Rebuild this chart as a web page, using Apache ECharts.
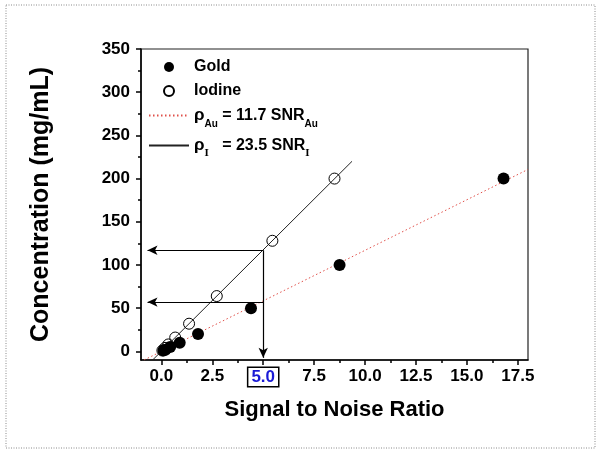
<!DOCTYPE html>
<html>
<head>
<meta charset="utf-8">
<script src="https://cdn.jsdelivr.net/npm/echarts@6/dist/echarts.min.js"></script>
<style>
html,body{margin:0;padding:0;background:#fff;}
#chart{width:600px;height:454px;}
</style>
</head>
<body>
<div id="chart"></div>
<script>
// ---- data ----
const goldPoints = [[0.1,1],[0.2,2],[0.43,5],[0.9,10],[1.8,20],[4.4,50],[8.75,100],[16.8,200]];
const iodinePoints = [[0.05,1],[0.18,4],[0.34,8],[0.68,16],[1.36,32],[2.72,64],[5.45,128],[8.5,200]];
const goldFit = [[-0.85,-10],[18,210.6]];      // rho = 11.7 SNR
const iodineFit = [[-0.43,-10],[9.36,220]];    // rho = 23.5 SNR
const readX = 5.0;
const readIodine = 117;
const readGold = 57;
const arrowTipX = -0.68;
const arrowTipY = -7.5;
const xTicks = [0,2.5,5,7.5,10,12.5,15,17.5];
const xMinor = [1.25,3.75,6.25,8.75,11.25,13.75,16.25];
const yTicks = [0,50,100,150,200,250,300,350];
const yMinor = [25,75,125,175,225,275,325];

const FONT = 'Liberation Sans';
const chart = echarts.init(document.getElementById('chart'), null, {renderer:'canvas'});

const axisBase = {
  type:'value',
  axisLine:{show:true,onZero:false,lineStyle:{color:'#000',width:1.5}},
  splitLine:{show:false}
};

const option = {
  animation:false,
  backgroundColor:'#fff',
  graphic:[{
    type:'rect', silent:true, z:-1,
    shape:{x:6,y:5,width:589,height:443},
    style:{fill:'none',stroke:'#8a8a8a',lineWidth:1,lineDash:[1,1.5]}
  }],
  grid:{left:141,right:72,top:49,bottom:94,show:true,borderColor:'#222',borderWidth:1.2},
  legend:{
    orient:'vertical', left:143, top:54, itemWidth:40, itemHeight:10, itemGap:8,
    data:['Gold','Iodine',{name:'goldFit',itemStyle:{opacity:0}},{name:'iodineFit',itemStyle:{opacity:0}}],
    textStyle:{fontFamily:FONT,fontWeight:'bold',fontSize:16,color:'#000',
      rich:{
        m:{fontFamily:FONT,fontWeight:'bold',fontSize:16,color:'#000'},
        p:{fontFamily:FONT,fontSize:17,color:'#000'},
        s:{fontFamily:FONT,fontWeight:'bold',fontSize:10,color:'#000',verticalAlign:'bottom',lineHeight:27},
        si:{fontFamily:'Liberation Serif',fontSize:11,color:'#000',verticalAlign:'bottom',lineHeight:27}
      }},
    formatter:function(n){
      if(n==='goldFit') return '{p|ρ}{s|Au}{m| = 11.7 SNR}{s|Au}';
      if(n==='iodineFit') return '{p|ρ}{si|I}{m|   = 23.5 SNR}{si|I}';
      return n;
    }
  },
  xAxis:[
    Object.assign({}, axisBase, {
      min:-1, max:18,
      name:'Signal to Noise Ratio', nameLocation:'middle', nameGap:39,
      nameTextStyle:{fontFamily:FONT,fontWeight:'bold',fontSize:22,color:'#000'},
      axisTick:{show:true,inside:false,length:5,customValues:xTicks,lineStyle:{color:'#000',width:1.5}},
      axisLabel:{customValues:xTicks,margin:8,fontFamily:FONT,fontWeight:'bold',fontSize:17,color:'#000',
        formatter:function(v){
          const s = Number(v).toFixed(1);
          return Math.abs(v-readX)<1e-9 ? '{hl|'+s+'}' : s;
        },
        rich:{hl:{fontFamily:FONT,fontWeight:'bold',fontSize:17,color:'#1a1ad6',borderColor:'#000',borderWidth:1.5,padding:[1,3,0,3],backgroundColor:'#fff'}}
      }
    }),
    Object.assign({}, axisBase, {
      min:-1, max:18, position:'bottom',
      axisLine:{show:false,onZero:false}, axisLabel:{show:false},
      axisTick:{show:true,inside:false,length:3,customValues:xMinor,lineStyle:{color:'#000',width:1.5}}
    })
  ],
  yAxis:[
    Object.assign({}, axisBase, {
      min:-10, max:350,
      name:'Concentration (mg/mL)', nameLocation:'middle', nameGap:87, nameRotate:90,
      nameTextStyle:{fontFamily:FONT,fontWeight:'bold',fontSize:25,color:'#000'},
      axisTick:{show:true,inside:false,length:5,customValues:yTicks,lineStyle:{color:'#000',width:1.5}},
      axisLabel:{customValues:yTicks,margin:11,fontFamily:FONT,fontWeight:'bold',fontSize:17,color:'#000'}
    }),
    Object.assign({}, axisBase, {
      min:-10, max:350, position:'left',
      axisLine:{show:false,onZero:false}, axisLabel:{show:false},
      axisTick:{show:true,inside:false,length:3,customValues:yMinor,lineStyle:{color:'#000',width:1.5}}
    })
  ],
  series:[
    {name:'goldFit', type:'line', data:goldFit, symbol:'none', silent:true,
     lineStyle:{color:'#e0504a',width:1,type:[1.5,2.5]}, itemStyle:{color:'#e0504a'}, z:2},
    {name:'iodineFit', type:'line', data:iodineFit, symbol:'none', silent:true,
     lineStyle:{color:'#222',width:1,type:'solid'}, itemStyle:{color:'#222'}, z:2,
     markLine:{silent:true, symbol:['none','arrow'], symbolSize:[7,10], label:{show:false},
       lineStyle:{color:'#000',width:1.2,type:'solid'},
       data:[
         [{coord:[readX,readIodine]},{coord:[arrowTipX,readIodine]}],
         [{coord:[readX,readGold]},{coord:[arrowTipX,readGold]}],
         [{coord:[readX,readIodine]},{coord:[readX,arrowTipY]}]
       ]}},
    {name:'Gold', type:'scatter', data:goldPoints, symbol:'circle', symbolSize:12,
     itemStyle:{color:'#000',opacity:1}, z:4},
    {name:'Iodine', type:'scatter', data:iodinePoints, symbol:'circle', symbolSize:11,
     itemStyle:{color:'transparent',borderColor:'#000',borderWidth:1,opacity:1}, z:5}
  ]
};
chart.setOption(option);
</script>
</body>
</html>
